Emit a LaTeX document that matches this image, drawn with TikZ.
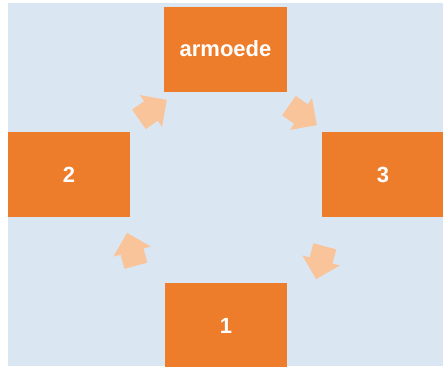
\documentclass[tikz,border=0pt]{standalone}
\usepackage{fontspec}
\setmainfont{Liberation Sans}
\usetikzlibrary{shapes.arrows}

\definecolor{bgblue}{HTML}{DAE6F2}
\definecolor{boxorange}{HTML}{ED7D2B}
\definecolor{arrowpeach}{HTML}{F9C49A}

\tikzset{
    stage/.style={fill=boxorange, text=white, minimum width=2.45cm,
	minimum height=1.7cm, inner sep=0pt,
	font=\fontsize{12.5}{14}\selectfont\bfseries},
    turn/.style={single arrow, fill=arrowpeach, minimum height=0.68cm,
	inner xsep=0pt, inner ysep=0.23cm, single arrow head extend=0.15cm}
}

\begin{document}
\begin{tikzpicture}
    \useasboundingbox (0, 0) rectangle (8.86, 7.32);
    \fill[bgblue] (0.16, 0) rectangle (8.86, 7.26);

    \node[stage] (top) at (4.51, 6.34) {armoede};
    \node[stage] (left) at (1.38, 3.83) {2};
    \node[stage] (right) at (7.66, 3.83) {3};
    \node[stage] (bottom) at (4.52, 0.81) {1};

    \node[turn, rotate=35] (tl) at (2.96, 5.06) {};
    \node[turn, rotate=-35] (tr) at (5.96, 5.08) {};
    \node[turn, rotate=-105] (br) at (6.44, 2.18) {};
    \node[turn, rotate=105] (bl) at (2.66, 2.22) {};
\end{tikzpicture}
\end{document}
